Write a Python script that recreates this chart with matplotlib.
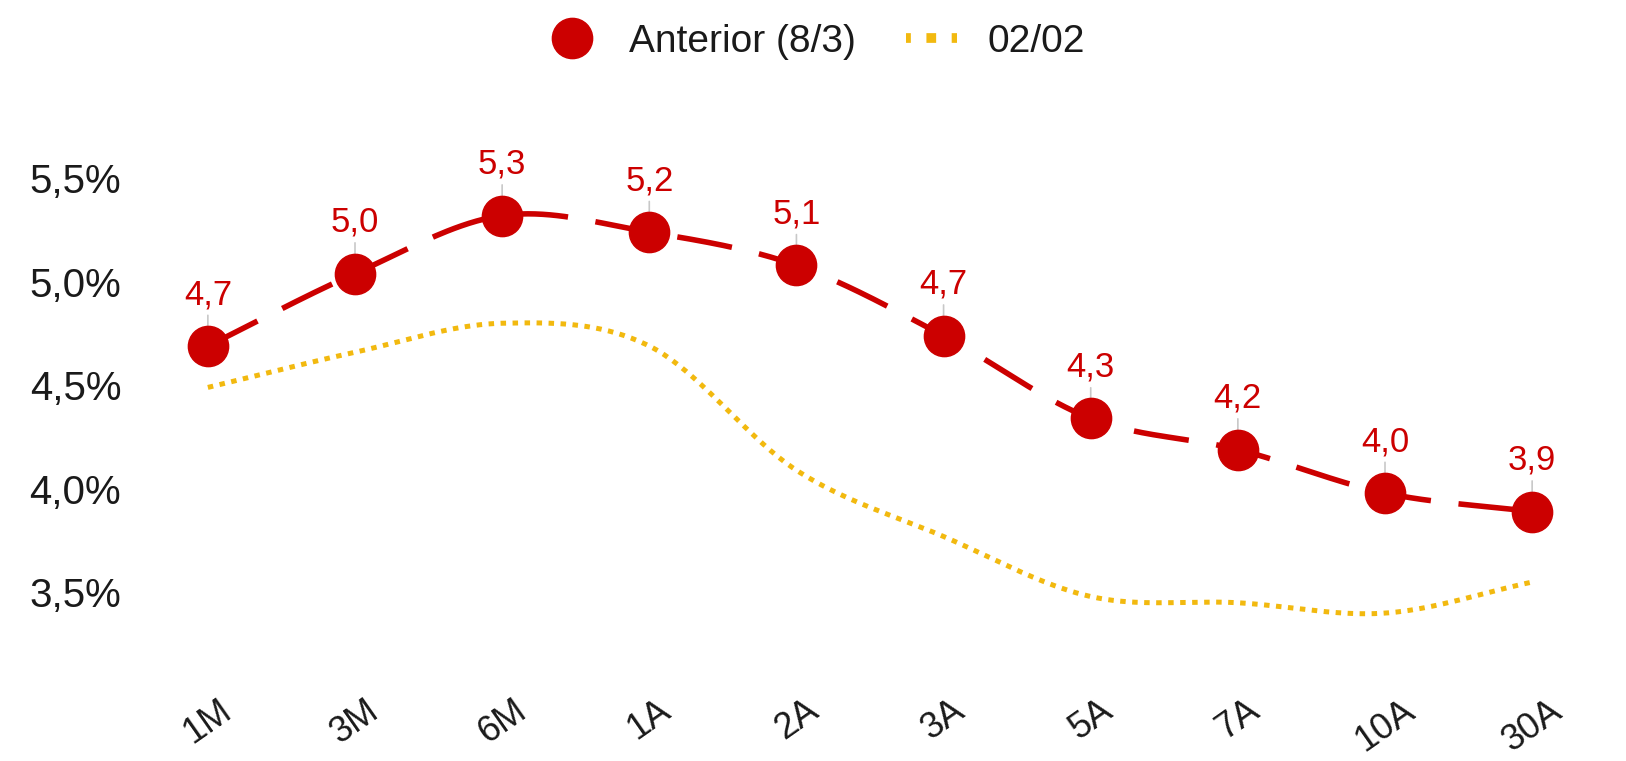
# libraries
import numpy as np
import matplotlib.pyplot as plt
from matplotlib.lines import Line2D

# data
plazos = ['1M', '3M', '6M', '1A', '2A', '3A', '5A', '7A', '10A', '30A']
anterior = [4.69, 5.04, 5.32, 5.24, 5.08, 4.74, 4.34, 4.19, 3.98, 3.89]
actual = [4.49, 4.66, 4.80, 4.69, 4.09, 3.77, 3.48, 3.45, 3.40, 3.55]
yticks = [3.5, 4.0, 4.5, 5.0, 5.5]

RED = '#cc0000'
YELLOW = '#f2b90f'
TXT = '#1a1a1a'

plt.rcParams['font.family'] = ['Liberation Sans', 'DejaVu Sans']


def smooth(y, n=40):
    # Catmull-Rom spline through the points
    y = np.asarray(y, dtype=float)
    p = np.concatenate([[2 * y[0] - y[1]], y, [2 * y[-1] - y[-2]]])
    xs, ys = [], []
    for i in range(len(y) - 1):
        t = np.linspace(0, 1, n, endpoint=False)
        p0, p1, p2, p3 = p[i], p[i + 1], p[i + 2], p[i + 3]
        yy = 0.5 * ((2 * p1) + (-p0 + p2) * t + (2 * p0 - 5 * p1 + 4 * p2 - p3) * t ** 2
                    + (-p0 + 3 * p1 - 3 * p2 + p3) * t ** 3)
        xs.append(i + t)
        ys.append(yy)
    xs.append([len(y) - 1])
    ys.append([y[-1]])
    return np.concatenate(xs), np.concatenate(ys)


fig = plt.figure(figsize=(16.26, 7.61), dpi=100)
ax = fig.add_axes([149 / 1626, 121 / 761, (1591 - 149) / 1626, 530 / 761])

x = np.arange(len(plazos))

# yellow dotted line
sx, sy = smooth(actual)
ax.plot(sx, sy, color=YELLOW, lw=3.6, linestyle=(0, (1.1, 1.3)), dash_capstyle='butt', zorder=2)

# red dashed line + markers
sx, sy = smooth(anterior)
ax.plot(sx, sy, color=RED, lw=4, linestyle=(0, (10, 5)), dash_capstyle='butt', zorder=3)
ax.plot(x, anterior, 'o', color=RED, markersize=29, zorder=4)

# labels with leader lines (under the markers)
for xi, yi in zip(x, anterior):
    ax.annotate(f'{yi:.1f}'.replace('.', ','), xy=(xi, yi), xytext=(0, 37),
                textcoords='offset points', ha='center', va='center',
                fontsize=25, color=RED, zorder=3.5,
                arrowprops=dict(arrowstyle='-', color='#c8c8c8', lw=1.2,
                                shrinkA=1, shrinkB=0))

ax.set_xlim(-0.4, 9.4)
ax.set_ylim(3.27, 5.83)
ax.set_yticks(yticks)
ax.set_yticklabels([f'{v:.1f}%'.replace('.', ',') for v in yticks], fontsize=29, color=TXT)
ax.set_xticks(x)
ax.set_xticklabels(plazos, fontsize=26, color=TXT, rotation=35, ha='center')
ax.tick_params(length=0, pad=20)
ax.tick_params(axis='x', pad=38)
for s in ax.spines.values():
    s.set_visible(False)

# legend
handles = [Line2D([], [], marker='o', color=RED, linestyle='none', markersize=29),
           Line2D([], [], color=YELLOW, lw=7, linestyle=(0.5, (1, 1.6)))]
fig.legend(handles, ['Anterior (8/3)', '02/02'], loc='upper center',
           bbox_to_anchor=(0.502, 1.015), ncol=2, frameon=False, fontsize=28,
           labelcolor=TXT, handlelength=1.3, columnspacing=1.3, handletextpad=0.8)

plt.savefig('out.png', dpi=100)
